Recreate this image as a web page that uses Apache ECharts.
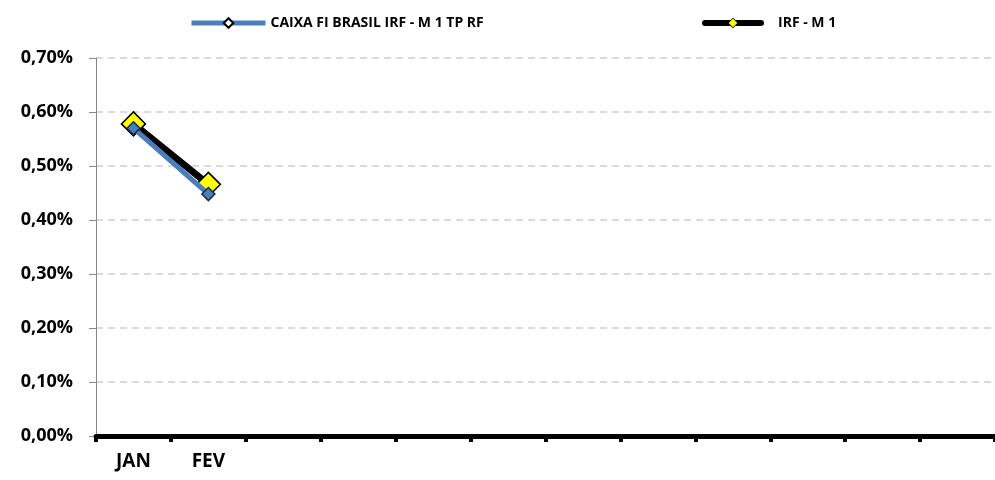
<!DOCTYPE html>
<html>
<head>
<meta charset="utf-8">
<script src="https://cdn.jsdelivr.net/npm/echarts@6/dist/echarts.min.js"></script>
<style>html,body{margin:0;padding:0;background:#fff}#c{width:995px;height:480px}</style>
</head>
<body>
<div id="c"></div>
<script>
var categories = ['JAN','FEV','','','','','','','','','',''];
var fundValues = [0.57, 0.448];
var indexValues = [0.578, 0.466];
var yTicks = [0, 0.1, 0.2, 0.3, 0.4, 0.5, 0.6, 0.7];
var seriesNames = ['CAIXA FI BRASIL IRF - M 1 TP RF', 'IRF - M 1'];

var chart = echarts.init(document.getElementById('c'));
var FONT = '"Open Sans", Lato, sans-serif';
chart.setOption({
  animation: false,
  legend: [
    {
      top: 11,
      left: 184,
      itemWidth: 74,
      itemHeight: 12,
      textStyle: {fontFamily: FONT, fontWeight: 'bold', fontSize: 14, color: '#000'},
      lineStyle: {width: 5, color: '#4a7ebb'},
      itemStyle: {color: '#ffffff', borderColor: '#000', borderWidth: 2},
      data: [seriesNames[0]]
    },
    {
      top: 11,
      left: 697,
      itemWidth: 56,
      itemHeight: 12,
      textStyle: {fontFamily: FONT, fontWeight: 'bold', fontSize: 14, color: '#000', padding: [0, 0, 0, 12]},
      lineStyle: {width: 6, color: '#000'},
      itemStyle: {color: '#ffff00', borderColor: '#000', borderWidth: 1},
      data: [seriesNames[1]]
    }
  ],
  grid: {left: 96, right: 0, top: 58, bottom: 44, containLabel: false},
  xAxis: {
    type: 'category',
    data: categories,
    boundaryGap: true,
    axisLine: {lineStyle: {color: '#000', width: 5}},
    axisTick: {show: true, length: 6, lineStyle: {color: '#000', width: 4}},
    axisLabel: {fontFamily: FONT, fontWeight: 'bold', fontSize: 19, color: '#000', margin: 16, interval: 0},
    splitLine: {show: false}
  },
  yAxis: {
    type: 'value',
    min: yTicks[0],
    max: yTicks[yTicks.length - 1],
    interval: 0.1,
    axisLine: {show: true, lineStyle: {color: '#888', width: 1}},
    axisTick: {show: true, length: 7, lineStyle: {color: '#888'}},
    axisLabel: {
      fontFamily: FONT, fontWeight: 'bold', fontSize: 18, color: '#000', margin: 23,
      formatter: function (v) { return v.toFixed(2).replace('.', ',') + '%'; }
    },
    splitLine: {show: true, lineStyle: {color: '#d0d0d0', type: [7, 5], width: 1.5}}
  },
  series: [
    {
      name: seriesNames[0],
      type: 'line',
      data: fundValues,
      z: 3,
      lineStyle: {color: '#4a7ebb', width: 5},
      itemStyle: {color: '#4a7ebb', borderColor: '#1a2a40', borderWidth: 1.5},
      symbol: 'diamond',
      symbolSize: 13
    },
    {
      name: seriesNames[1],
      type: 'line',
      data: indexValues,
      z: 2,
      lineStyle: {color: '#000', width: 7, cap: 'round'},
      itemStyle: {color: '#ffff00', borderColor: '#000', borderWidth: 1.5},
      symbol: 'diamond',
      symbolSize: 24
    }
  ]
});
</script>
</body>
</html>
